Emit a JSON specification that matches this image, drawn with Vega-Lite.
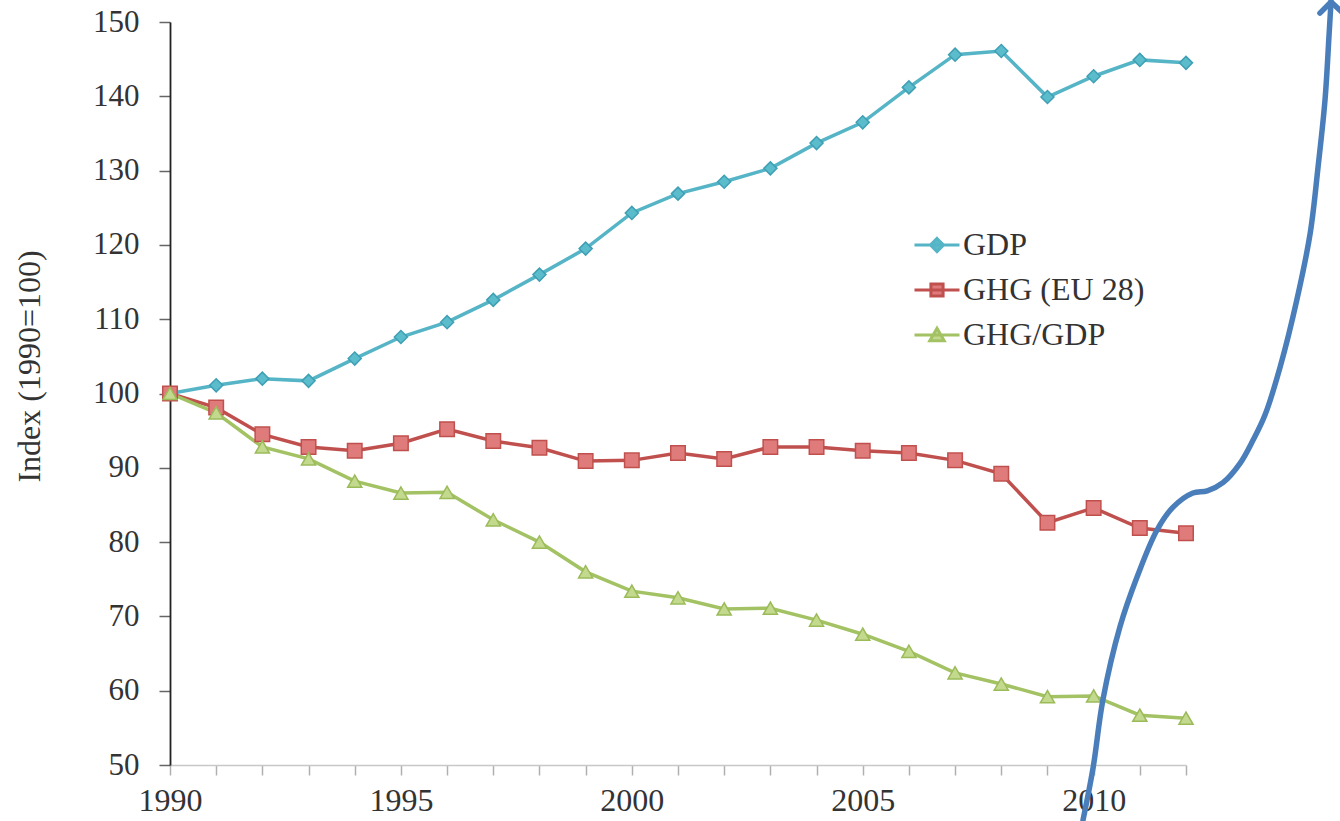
{
  "$schema": "https://vega.github.io/schema/vega-lite/v6.json",
  "autosize": {"type": "none"},
  "padding": {"left": 170, "top": 22, "right": 154, "bottom": 56},
  "width": 1016,
  "height": 743,
  "background": "white",
  "config": {
    "view": {"stroke": null},
    "font": "Liberation Serif"
  },
  "datasets": {
    "series": [
      {"year": 1990, "series": "GDP", "value": 100.0},
      {"year": 1991, "series": "GDP", "value": 101.1},
      {"year": 1992, "series": "GDP", "value": 102.0},
      {"year": 1993, "series": "GDP", "value": 101.7},
      {"year": 1994, "series": "GDP", "value": 104.7},
      {"year": 1995, "series": "GDP", "value": 107.6},
      {"year": 1996, "series": "GDP", "value": 109.6},
      {"year": 1997, "series": "GDP", "value": 112.6},
      {"year": 1998, "series": "GDP", "value": 116.0},
      {"year": 1999, "series": "GDP", "value": 119.5},
      {"year": 2000, "series": "GDP", "value": 124.3},
      {"year": 2001, "series": "GDP", "value": 126.9},
      {"year": 2002, "series": "GDP", "value": 128.5},
      {"year": 2003, "series": "GDP", "value": 130.3},
      {"year": 2004, "series": "GDP", "value": 133.7},
      {"year": 2005, "series": "GDP", "value": 136.5},
      {"year": 2006, "series": "GDP", "value": 141.2},
      {"year": 2007, "series": "GDP", "value": 145.6},
      {"year": 2008, "series": "GDP", "value": 146.1},
      {"year": 2009, "series": "GDP", "value": 139.9},
      {"year": 2010, "series": "GDP", "value": 142.7},
      {"year": 2011, "series": "GDP", "value": 144.9},
      {"year": 2012, "series": "GDP", "value": 144.5},
      {"year": 1990, "series": "GHG (EU 28)", "value": 100.0},
      {"year": 1991, "series": "GHG (EU 28)", "value": 98.1},
      {"year": 1992, "series": "GHG (EU 28)", "value": 94.5},
      {"year": 1993, "series": "GHG (EU 28)", "value": 92.8},
      {"year": 1994, "series": "GHG (EU 28)", "value": 92.3},
      {"year": 1995, "series": "GHG (EU 28)", "value": 93.3},
      {"year": 1996, "series": "GHG (EU 28)", "value": 95.2},
      {"year": 1997, "series": "GHG (EU 28)", "value": 93.6},
      {"year": 1998, "series": "GHG (EU 28)", "value": 92.7},
      {"year": 1999, "series": "GHG (EU 28)", "value": 90.9},
      {"year": 2000, "series": "GHG (EU 28)", "value": 91.0},
      {"year": 2001, "series": "GHG (EU 28)", "value": 92.0},
      {"year": 2002, "series": "GHG (EU 28)", "value": 91.2},
      {"year": 2003, "series": "GHG (EU 28)", "value": 92.8},
      {"year": 2004, "series": "GHG (EU 28)", "value": 92.8},
      {"year": 2005, "series": "GHG (EU 28)", "value": 92.3},
      {"year": 2006, "series": "GHG (EU 28)", "value": 92.0},
      {"year": 2007, "series": "GHG (EU 28)", "value": 91.0},
      {"year": 2008, "series": "GHG (EU 28)", "value": 89.2},
      {"year": 2009, "series": "GHG (EU 28)", "value": 82.6},
      {"year": 2010, "series": "GHG (EU 28)", "value": 84.6},
      {"year": 2011, "series": "GHG (EU 28)", "value": 81.9},
      {"year": 2012, "series": "GHG (EU 28)", "value": 81.2},
      {"year": 1990, "series": "GHG/GDP", "value": 100.0},
      {"year": 1991, "series": "GHG/GDP", "value": 97.4},
      {"year": 1992, "series": "GHG/GDP", "value": 92.8},
      {"year": 1993, "series": "GHG/GDP", "value": 91.2},
      {"year": 1994, "series": "GHG/GDP", "value": 88.2},
      {"year": 1995, "series": "GHG/GDP", "value": 86.6},
      {"year": 1996, "series": "GHG/GDP", "value": 86.7},
      {"year": 1997, "series": "GHG/GDP", "value": 83.0},
      {"year": 1998, "series": "GHG/GDP", "value": 80.0},
      {"year": 1999, "series": "GHG/GDP", "value": 76.0},
      {"year": 2000, "series": "GHG/GDP", "value": 73.4},
      {"year": 2001, "series": "GHG/GDP", "value": 72.5},
      {"year": 2002, "series": "GHG/GDP", "value": 71.0},
      {"year": 2003, "series": "GHG/GDP", "value": 71.1},
      {"year": 2004, "series": "GHG/GDP", "value": 69.5},
      {"year": 2005, "series": "GHG/GDP", "value": 67.6},
      {"year": 2006, "series": "GHG/GDP", "value": 65.3},
      {"year": 2007, "series": "GHG/GDP", "value": 62.4},
      {"year": 2008, "series": "GHG/GDP", "value": 60.9},
      {"year": 2009, "series": "GHG/GDP", "value": 59.2},
      {"year": 2010, "series": "GHG/GDP", "value": 59.3},
      {"year": 2011, "series": "GHG/GDP", "value": 56.7},
      {"year": 2012, "series": "GHG/GDP", "value": 56.3}
    ],
    "arrow": [
      {"part": "curve", "i": 1, "year": 2009.77, "value": 42.6},
      {"part": "curve", "i": 2, "year": 2009.99, "value": 49.7},
      {"part": "curve", "i": 3, "year": 2010.20, "value": 58.75},
      {"part": "curve", "i": 4, "year": 2010.57, "value": 68.6},
      {"part": "curve", "i": 5, "year": 2010.94, "value": 75.3},
      {"part": "curve", "i": 6, "year": 2011.37, "value": 81.6},
      {"part": "curve", "i": 7, "year": 2011.72, "value": 84.7},
      {"part": "curve", "i": 8, "year": 2012.15, "value": 86.6},
      {"part": "curve", "i": 9, "year": 2012.46, "value": 86.9},
      {"part": "curve", "i": 10, "year": 2012.80, "value": 88.0},
      {"part": "curve", "i": 11, "year": 2013.17, "value": 90.6},
      {"part": "curve", "i": 12, "year": 2013.45, "value": 93.7},
      {"part": "curve", "i": 13, "year": 2013.71, "value": 97.1},
      {"part": "curve", "i": 14, "year": 2014.04, "value": 103.6},
      {"part": "curve", "i": 15, "year": 2014.40, "value": 112.6},
      {"part": "curve", "i": 16, "year": 2014.69, "value": 121.6},
      {"part": "curve", "i": 17, "year": 2014.86, "value": 130.5},
      {"part": "curve", "i": 18, "year": 2015.01, "value": 139.5},
      {"part": "curve", "i": 19, "year": 2015.10, "value": 148.5},
      {"part": "curve", "i": 20, "year": 2015.14, "value": 152.7},
      {"part": "barbL", "i": 1, "year": 2014.90, "value": 151.2},
      {"part": "barbL", "i": 2, "year": 2015.14, "value": 152.7},
      {"part": "barbR", "i": 1, "year": 2015.14, "value": 152.7},
      {"part": "barbR", "i": 2, "year": 2015.40, "value": 151.2}
    ]
  },
  "layer": [
    {
      "data": {"name": "series"},
      "mark": {"type": "line", "strokeWidth": 3.5, "interpolate": "linear"},
      "encoding": {
        "x": {
          "field": "year", "type": "quantitative",
          "scale": {"domain": [1990, 2012], "nice": false, "zero": false},
          "axis": {
            "title": null,
            "values": [1990,1991,1992,1993,1994,1995,1996,1997,1998,1999,2000,2001,2002,2003,2004,2005,2006,2007,2008,2009,2010,2011,2012],
            "labelExpr": "datum.value % 5 === 0 ? datum.value : ''",
            "grid": false,
            "domainColor": "#c8c8c8",
            "domainWidth": 1.5,
            "tickColor": "#b0b0b0",
            "tickWidth": 1.5,
            "tickSize": 10,
            "labelFont": "Liberation Serif",
            "labelFontSize": 32,
            "labelColor": "#333333",
            "labelPadding": 10,
            "labelFlush": false,
            "labelOverlap": false
          }
        },
        "y": {
          "field": "value", "type": "quantitative",
          "scale": {"domain": [50, 150], "nice": false, "zero": false},
          "axis": {
            "title": "Index (1990=100)",
            "values": [50,60,70,80,90,100,110,120,130,140,150],
            "grid": false,
            "domainColor": "#222222",
            "domainWidth": 1.8,
            "tickColor": "#666666",
            "tickWidth": 1.5,
            "tickSize": 11,
            "labelFont": "Liberation Serif",
            "labelFontSize": 31,
            "labelColor": "#333333",
            "labelPadding": 20,
            "titleFont": "Liberation Serif",
            "titleFontSize": 32,
            "titleFontWeight": "normal",
            "titleColor": "#333333",
            "titleAngle": 270,
            "titleAlign": "center",
            "titleBaseline": "middle",
            "titleX": -141,
            "titleY": 344
          }
        },
        "color": {
          "field": "series", "type": "nominal",
          "scale": {"domain": ["GDP", "GHG (EU 28)", "GHG/GDP"], "range": ["#55b4c6", "#c0504d", "#a3c263"]},
          "legend": {
            "title": null,
            "orient": "none",
            "legendX": 743,
            "legendY": 199,
            "padding": 0,
            "symbolSize": 2025,
            "symbolStrokeWidth": 3,
            "rowPadding": 5,
            "labelOffset": 2,
            "labelFont": "Liberation Serif",
            "labelFontSize": 32,
            "labelColor": "#333333",
            "labelLimit": 0,
            "encode": {
              "symbols": {
                "update": {
                  "shape": {"signal": "datum.value === 'GDP' ? 'M-1,0L1,0M0,-0.29L0.29,0L0,0.29L-0.29,0Z' : datum.value === 'GHG (EU 28)' ? 'M-1,0L1,0M-0.27,-0.27L0.27,-0.27L0.27,0.27L-0.27,0.27Z' : 'M-1,0L1,0M0,-0.3L0.32,0.25L-0.32,0.25Z'"},
                  "fill": {"signal": "datum.value === 'GDP' ? '#5bbccc' : datum.value === 'GHG (EU 28)' ? '#e07b7b' : '#c3d98d'"},
                  "stroke": {"signal": "datum.value === 'GDP' ? '#55b4c6' : datum.value === 'GHG (EU 28)' ? '#c0504d' : '#a3c263'"},
                  "strokeWidth": {"value": 3},
                  "size": {"value": 2025},
                  "opacity": {"value": 1},
                  "fillOpacity": {"value": 1}
                }
              }
            }
          }
        }
      }
    },
    {
      "data": {"name": "series"},
      "transform": [{"filter": "datum.series === 'GDP'"}],
      "mark": {"type": "point", "shape": "diamond", "filled": true, "size": 170, "fill": "#5bbccc", "stroke": "#3f9fb4", "strokeWidth": 1.5, "opacity": 1},
      "encoding": {
        "x": {"field": "year", "type": "quantitative"},
        "y": {"field": "value", "type": "quantitative"}
      }
    },
    {
      "data": {"name": "series"},
      "transform": [{"filter": "datum.series === 'GHG (EU 28)'"}],
      "mark": {"type": "point", "shape": "square", "filled": true, "size": 210, "fill": "#e07b7b", "stroke": "#c0504d", "strokeWidth": 1.5, "opacity": 1},
      "encoding": {
        "x": {"field": "year", "type": "quantitative"},
        "y": {"field": "value", "type": "quantitative"}
      }
    },
    {
      "data": {"name": "series"},
      "transform": [{"filter": "datum.series === 'GHG/GDP'"}],
      "mark": {"type": "point", "shape": "triangle-up", "filled": true, "size": 200, "fill": "#c3d98d", "stroke": "#9bbb59", "strokeWidth": 1.5, "opacity": 1},
      "encoding": {
        "x": {"field": "year", "type": "quantitative"},
        "y": {"field": "value", "type": "quantitative"}
      }
    },
    {
      "data": {"name": "arrow"},
      "mark": {"type": "line", "clip": false, "stroke": "#4a7ebb", "strokeWidth": 5.5, "strokeCap": "round", "strokeJoin": "round", "interpolate": "catmull-rom"},
      "encoding": {
        "x": {"field": "year", "type": "quantitative"},
        "y": {"field": "value", "type": "quantitative"},
        "detail": {"field": "part", "type": "nominal"},
        "order": {"field": "i", "type": "quantitative"}
      }
    }
  ]
}
